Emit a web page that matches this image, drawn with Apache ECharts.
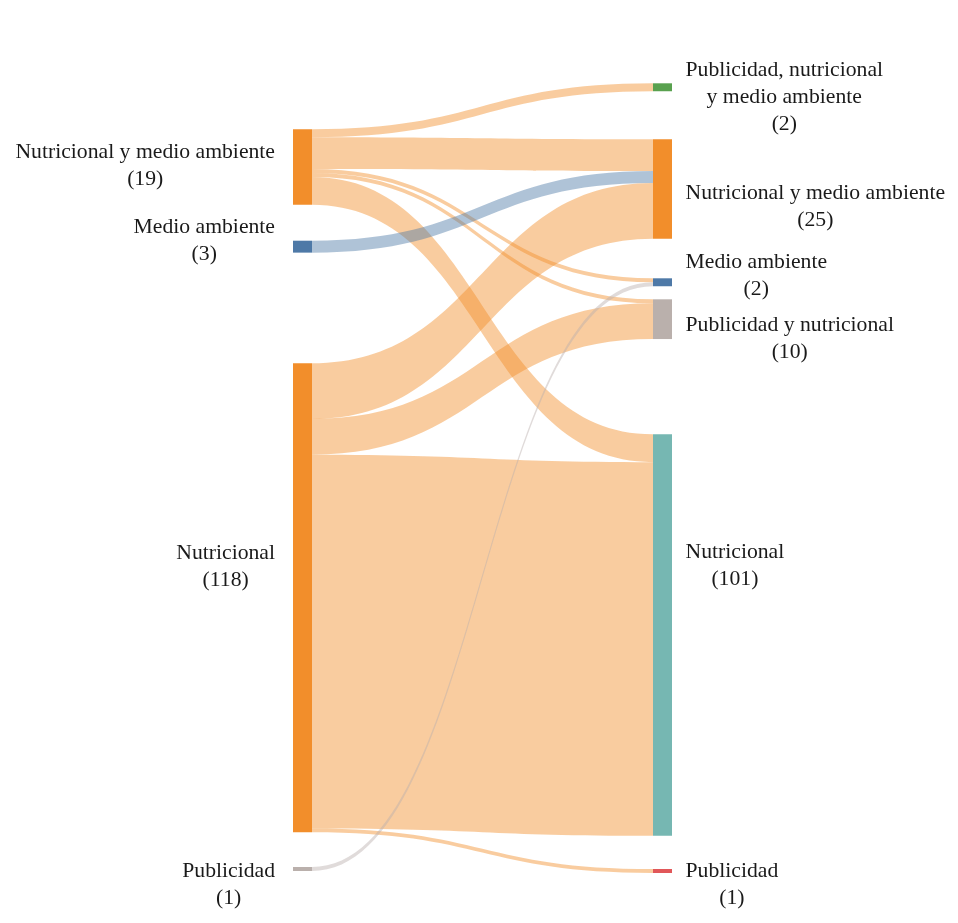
<!DOCTYPE html>
<html>
<head>
<meta charset="utf-8">
<script src="https://cdn.jsdelivr.net/npm/echarts@6/dist/echarts.min.js"></script>
<style>
  html, body { margin: 0; padding: 0; background: #fff; }
  #chart { width: 958px; height: 923px; }
</style>
</head>
<body>
<div id="chart"></div>
<script>
  // datos: nodos de la izquierda y de la derecha
  var leftNames = ['Nutricional y medio ambiente', 'Medio ambiente', 'Nutricional', 'Publicidad']
  var leftCounts = [19, 3, 118, 1]
  var rightNames = ['Publicidad, nutricional\ny medio ambiente', 'Nutricional y medio ambiente', 'Medio ambiente',
    'Publicidad y nutricional', 'Nutricional', 'Publicidad']
  var rightCounts = [2, 25, 2, 10, 101, 1]
  // flujos: indice izquierda -> indice derecha
  var linkFrom = [0, 0, 0, 0, 0, 1, 2, 2, 2, 2, 3]
  var linkTo = [0, 1, 2, 3, 4, 1, 1, 3, 4, 5, 2]
  var linkValues = [2, 8, 1, 1, 7, 3, 14, 9, 94, 1, 1]

  // layout / estilo
  var TOP = 83
  var HEIGHT = 790
  var leftTop = [129.3, 240.7, 363.3, 867]
  var rightTop = [83.3, 139.3, 278.3, 299.3, 434.3, 869]
  var leftLabelDy = [-1, -6, -31, 16]
  var rightLabelDy = [10, 18, -6.5, 20, -69.5, 14]
  var leftColors = ['#F28E2B', '#4E79A7', '#F28E2B', '#BAB0AC']
  var rightColors = ['#59A14F', '#F28E2B', '#4E79A7', '#BAB0AC', '#76B7B2', '#E15759']
  var FONT = 'Liberation Serif'
  var textStyle = { fontFamily: FONT, fontSize: 21.7, lineHeight: 27, color: '#1a1a1a', align: 'center' }

  function richLabel (name, count) {
    var lines = name.split('\n').concat(['(' + count + ')'])
    return lines.map(function (l) { return '{t|' + l + '}' }).join('\n')
  }

  var nodes = []
  leftNames.forEach(function (name, i) {
    nodes.push({
      name: 'L' + i,
      localY: (leftTop[i] - TOP) / HEIGHT,
      itemStyle: { color: leftColors[i] },
      label: {
        position: 'left',
        distance: 18,
        offset: [0, leftLabelDy[i]],
        formatter: richLabel(name, leftCounts[i])
      }
    })
  })
  rightNames.forEach(function (name, i) {
    nodes.push({
      name: 'R' + i,
      localY: (rightTop[i] - TOP) / HEIGHT,
      itemStyle: { color: rightColors[i] },
      label: {
        position: 'right',
        distance: 13.5,
        offset: [0, rightLabelDy[i]],
        formatter: richLabel(name, rightCounts[i])
      }
    })
  })

  var links = linkValues.map(function (v, i) {
    return { source: 'L' + linkFrom[i], target: 'R' + linkTo[i], value: v }
  })

  var ky = 3.975
  var total = leftCounts.reduce(function (a, b) { return a + b }, 0)
  var gap = (HEIGHT - ky * total) / (rightNames.length - 1)

  var chart = echarts.init(document.getElementById('chart'), null, { renderer: 'canvas' })
  chart.setOption({
    animation: false,
    series: [{
      type: 'sankey',
      left: 293,
      top: TOP,
      width: 379,
      height: HEIGHT,
      nodeWidth: 19,
      nodeGap: gap,
      layoutIterations: 0,
      draggable: false,
      emphasis: { disabled: true },
      itemStyle: { borderWidth: 0 },
      lineStyle: { color: 'source', opacity: 0.45, curveness: 0.5 },
      label: {
        show: true,
        fontFamily: FONT,
        fontSize: 21.7,
        lineHeight: 27,
        color: '#1a1a1a',
        rich: { t: textStyle }
      },
      data: nodes,
      links: links
    }]
  })
</script>
</body>
</html>
